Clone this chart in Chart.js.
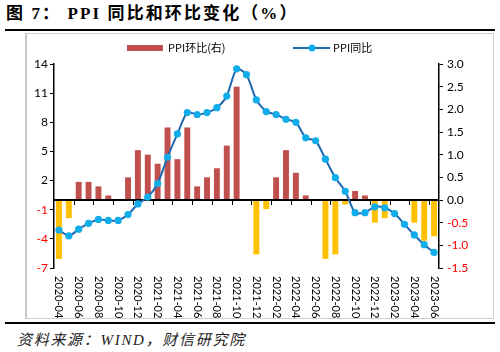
<!DOCTYPE html>
<html><head><meta charset="utf-8">
<script src="https://cdn.jsdelivr.net/npm/chart.js@4/dist/chart.umd.min.js"></script>
<style>
html,body{margin:0;padding:0;background:#fff;}
#wrap{position:relative;width:500px;height:352px;overflow:hidden;background:#fff;}
#title{position:absolute;left:6px;top:3px;font-family:"Liberation Serif","Noto Sans CJK SC",serif;font-weight:bold;font-size:17px;line-height:22px;color:#000;white-space:pre;letter-spacing:2.1px;}
#rule1{position:absolute;left:5px;top:29px;width:490px;height:2px;background:#000;}
#box{position:absolute;left:25px;top:33px;width:466px;height:284px;border:1px solid #d0d0d0;border-left:2px solid #c8c8c8;}
#cv{position:absolute;left:26px;top:34px;}
#rule2{position:absolute;left:5px;top:322px;width:490px;height:2px;background:#000;}
#src{position:absolute;left:17px;top:330px;font-family:"Liberation Serif","Noto Sans CJK SC",serif;font-style:italic;font-size:15px;line-height:20px;color:#222;white-space:nowrap;letter-spacing:1.7px;}
</style></head>
<body><div id="wrap">
<div id="title">图 7： PPI 同比和环比变化（%）</div>
<div id="rule1"></div>
<div id="box"></div>
<canvas id="cv" width="465" height="284" style="width:465px;height:284px"></canvas>
<div id="rule2"></div>
<div id="src">资料来源：WIND，财信研究院</div>
</div>
<script>
const months = ["2020-04","2020-05","2020-06","2020-07","2020-08","2020-09","2020-10","2020-11","2020-12",
"2021-01","2021-02","2021-03","2021-04","2021-05","2021-06","2021-07","2021-08","2021-09","2021-10","2021-11","2021-12",
"2022-01","2022-02","2022-03","2022-04","2022-05","2022-06","2022-07","2022-08","2022-09","2022-10","2022-11","2022-12",
"2023-01","2023-02","2023-03","2023-04","2023-05","2023-06"];
const ppiYoY = [-3.1,-3.7,-3.0,-2.4,-2.0,-2.1,-2.1,-1.5,-0.4,
0.3,1.7,4.4,6.8,9.0,8.8,9.0,9.5,10.7,13.5,12.9,10.3,
9.1,8.8,8.3,8.0,6.4,6.1,4.2,2.3,0.9,-1.3,-1.3,-0.7,
-0.8,-1.4,-2.5,-3.6,-4.6,-5.4];
const ppiMoM = [-1.3,-0.4,0.4,0.4,0.3,0.1,0.0,0.5,1.1,
1.0,0.8,1.6,0.9,1.6,0.3,0.5,0.7,1.2,2.5,0.0,-1.2,
-0.2,0.5,1.1,0.6,0.1,0.0,-1.3,-1.2,-0.1,0.2,0.1,-0.5,
-0.4,0.0,0.0,-0.5,-0.9,-0.8];
const leftTicks = [-7,-4,-1,2,5,8,11,14];
const rightTicks = [-1.5,-1.0,-0.5,0.0,0.5,1.0,1.5,2.0,2.5,3.0];
const seriesNames = ["PPI环比(右)","PPI同比"];

const RED = "#C0504D", GOLD = "#FFC000", LINE = "#2067B0", DOT = "#11ADEA";
const tickFont = {family:"Lato, 'Liberation Sans', sans-serif", size:12};

const overlay = {
  id:'overlay',
  afterDatasetDraw(chart, args){
    if (args.index !== 0) return;
    const ctx = chart.ctx, ca = chart.chartArea;
    const y0 = chart.scales.y.getPixelForValue(0);
    ctx.save();
    ctx.strokeStyle = "#000"; ctx.lineWidth = 2;
    ctx.beginPath(); ctx.moveTo(ca.left, y0); ctx.lineTo(ca.right, y0); ctx.stroke();
    ctx.lineWidth = 1;
    const step = (ca.right - ca.left) / months.length;
    for (let k = 2; k < months.length; k += 2) {
      const x = Math.round(ca.left + step * k) + 0.5;
      ctx.beginPath(); ctx.moveTo(x, y0); ctx.lineTo(x, y0 + 5); ctx.stroke();
    }
    ctx.restore();
  },
  afterDraw(chart){
    const ctx = chart.ctx, ca = chart.chartArea, xs = chart.scales.x;
    ctx.save();
    ctx.fillStyle = "#000";
    ctx.font = "11px Lato, 'Liberation Sans', sans-serif";
    ctx.textAlign = "left"; ctx.textBaseline = "middle";
    months.forEach((m, i) => {
      if (i % 2) return;
      const x = xs.getPixelForValue(i);
      ctx.save(); ctx.translate(x, ca.bottom + 8); ctx.rotate(Math.PI/2);
      ctx.fillText(m, 0, 0); ctx.restore();
    });
    // legend
    const ly = 14;
    ctx.fillStyle = RED; ctx.fillRect(101, ly - 3, 36, 6);
    ctx.fillStyle = "#000"; ctx.font = "11px 'Noto Sans CJK SC', sans-serif";
    ctx.fillText(seriesNames[0], 142, ly);
    ctx.strokeStyle = LINE; ctx.lineWidth = 2;
    ctx.beginPath(); ctx.moveTo(267, ly); ctx.lineTo(304, ly); ctx.stroke();
    ctx.fillStyle = DOT; ctx.beginPath(); ctx.arc(286, ly, 3.5, 0, Math.PI*2); ctx.fill();
    ctx.fillStyle = "#000"; ctx.fillText(seriesNames[1], 307, ly);
    ctx.restore();
  }
};

new Chart(document.getElementById('cv'), {
  data: {
    labels: months,
    datasets: [
      {type:'bar', label:seriesNames[0], data:ppiMoM, yAxisID:'y1', order:1,
       backgroundColor: ppiMoM.map(v => v >= 0 ? RED : GOLD),
       barPercentage:0.6, categoryPercentage:1.0},
      {type:'line', label:seriesNames[1], data:ppiYoY, yAxisID:'y', order:0,
       borderColor:LINE, borderWidth:2, tension:0.25,
       pointRadius:3.6, pointBackgroundColor:DOT, pointBorderColor:DOT, pointBorderWidth:0}
    ]
  },
  options: {
    responsive:false, animation:false, devicePixelRatio:1,
    layout:{padding:{top:30, left:0, right:0, bottom:0}},
    plugins:{legend:{display:false}, tooltip:{enabled:false}},
    scales:{
      x:{type:'category', offset:true,
         grid:{display:false}, border:{display:false},
         ticks:{display:false},
         afterFit(s){ s.height = 50; }},
      y:{position:'left', min:-7, max:14,
         afterBuildTicks(s){ s.ticks = leftTicks.map(v => ({value:v})); },
         grid:{drawOnChartArea:false, drawTicks:true, tickLength:4, color:"#000"},
         border:{display:true, color:"#000", width:1.5},
         ticks:{font:tickFont, padding:2, color:c => c.tick.value < 0 ? "#FF0000" : "#000"},
         afterFit(s){ s.width = 28; }},
      y1:{position:'right', min:-1.5, max:3.0,
         afterBuildTicks(s){ s.ticks = rightTicks.map(v => ({value:v})); },
         grid:{drawOnChartArea:false, drawTicks:true, tickLength:4, color:"#000"},
         border:{display:true, color:"#000", width:1.5},
         ticks:{font:tickFont, padding:4, color:c => c.tick.value < 0 ? "#FF0000" : "#000",
                callback:v => Number(v).toFixed(1)},
         afterFit(s){ s.width = 52; }}
    }
  },
  plugins:[overlay]
});
</script>
</body></html>
